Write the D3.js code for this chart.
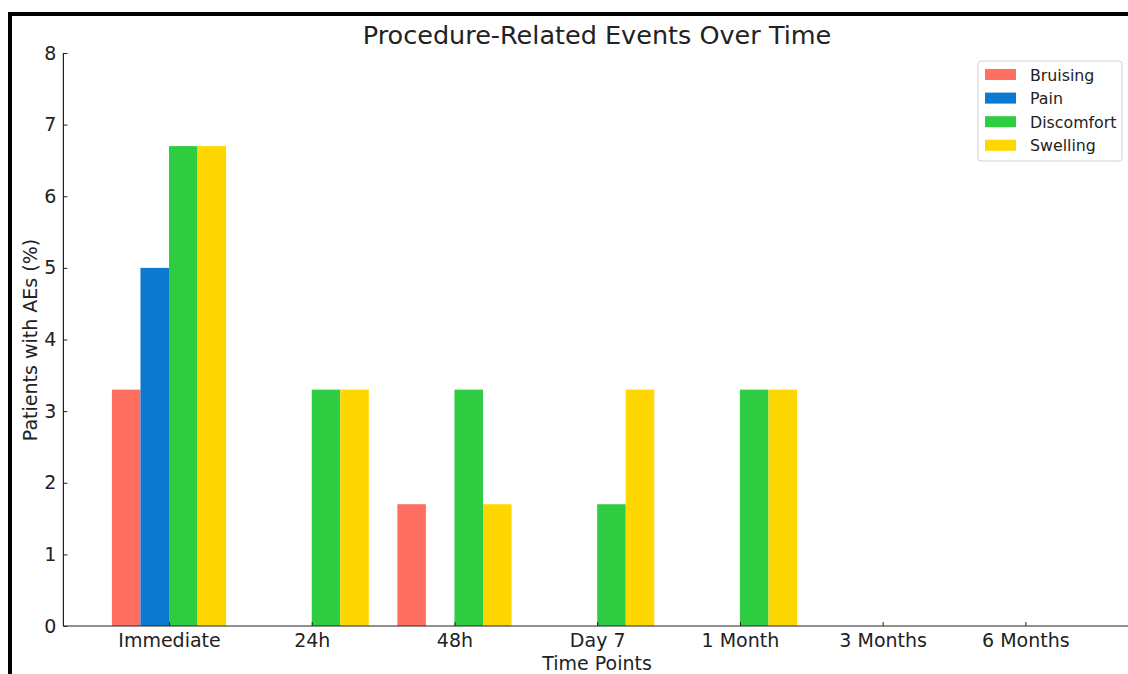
<!DOCTYPE html>
<html>
<head>
<meta charset="utf-8">
<script src="https://cdn.jsdelivr.net/npm/d3@7"></script>
<style>
  html, body { margin: 0; padding: 0; background: #fff; }
  svg { display: block; font-family: "DejaVu Sans", sans-serif; }
</style>
</head>
<body>
<svg id="chart" width="1128" height="674"></svg>
<script>
// chart data
const timePoints = ['Immediate', '24h', '48h', 'Day 7', '1 Month', '3 Months', '6 Months'];
const seriesNames = ['Bruising', 'Pain', 'Discomfort', 'Swelling'];
const bruising = [3.3, 0, 1.7, 0, 0, 0, 0];
const pain = [5.0, 0, 0, 0, 0, 0, 0];
const discomfort = [6.7, 3.3, 3.3, 1.7, 3.3, 0, 0];
const swelling = [6.7, 3.3, 1.7, 3.3, 3.3, 0, 0];
const yTicks = [0, 1, 2, 3, 4, 5, 6, 7, 8];
const colors = ['#FF6F61', '#0A79CF', '#2ECC40', '#FFD700'];

const seriesValues = [bruising, pain, discomfort, swelling];

const svg = d3.select('#chart');
const margin = { top: 53, bottom: 626 };
const barW = 0.2;
const tickFont = 19;

// index scale with matplotlib-like padding
const x = d3.scaleLinear().domain([-0.74, 6.74]).range([63.4, 1131]);
const y = d3.scaleLinear().domain([0, 8]).range([margin.bottom, margin.top]);

// outer frame
svg.append('rect')
  .attr('x', 10).attr('y', 14)
  .attr('width', 1140).attr('height', 700)
  .attr('fill', 'none').attr('stroke', '#000').attr('stroke-width', 4);

// bars
const g = svg.append('g');
seriesValues.forEach((vals, si) => {
  g.selectAll(null)
    .data(vals.map((v, i) => ({ v, i })))
    .join('rect')
    .attr('x', d => x(d.i + (si - 2) * barW))
    .attr('width', d => x(d.i + (si - 1) * barW) - x(d.i + (si - 2) * barW))
    .attr('y', d => y(d.v))
    .attr('height', d => y(0) - y(d.v))
    .attr('fill', colors[si]);
});

// y axis
const yAxis = d3.axisLeft(y).tickValues(yTicks).tickSize(-4).tickPadding(7).tickFormat(d3.format('d'));
svg.append('g')
  .attr('transform', `translate(${x(-0.74)},0)`)
  .call(yAxis)
  .call(a => a.select('.domain').attr('d', `M0,${margin.top}V${margin.bottom}`).attr('stroke', '#222').attr('stroke-width', 1.2))
  .call(a => a.selectAll('.tick line').attr('stroke', '#222'))
  .call(a => a.selectAll('.tick text').attr('font-size', tickFont).attr('fill', '#222').attr('font-family', '"DejaVu Sans", sans-serif'));

// x axis
const xAxis = d3.axisBottom(x).tickValues(d3.range(timePoints.length)).tickSize(-4).tickPadding(8)
  .tickFormat(i => timePoints[i]);
svg.append('g')
  .attr('transform', `translate(0,${margin.bottom})`)
  .call(xAxis)
  .call(a => a.select('.domain').attr('d', `M${x(-0.74)},0H${x(6.74)}`).attr('stroke', '#222').attr('stroke-width', 1.2))
  .call(a => a.selectAll('.tick line').attr('stroke', '#222'))
  .call(a => a.selectAll('.tick text').attr('font-size', tickFont).attr('fill', '#222').attr('font-family', '"DejaVu Sans", sans-serif'));

// titles
svg.append('text')
  .attr('x', 597).attr('y', 44)
  .attr('text-anchor', 'middle')
  .attr('font-size', 25.5).attr('fill', '#222')
  .text('Procedure-Related Events Over Time');

svg.append('text')
  .attr('x', 597).attr('y', 670)
  .attr('text-anchor', 'middle')
  .attr('font-size', tickFont).attr('fill', '#222')
  .text('Time Points');

svg.append('text')
  .attr('transform', `translate(37,340) rotate(-90)`)
  .attr('text-anchor', 'middle')
  .attr('font-size', tickFont).attr('fill', '#222')
  .text('Patients with AEs (%)');

// legend
const legend = svg.append('g').attr('transform', 'translate(978,61)');
legend.append('rect')
  .attr('width', 144).attr('height', 100).attr('rx', 3)
  .attr('fill', '#fff').attr('stroke', '#d0d0d0');
seriesNames.forEach((name, i) => {
  const row = legend.append('g').attr('transform', `translate(7,${14 + i * 23.6})`);
  row.append('rect').attr('x', 0).attr('y', -6).attr('width', 31).attr('height', 11).attr('fill', colors[i]);
  row.append('text').attr('x', 45).attr('y', 5.5)
    .attr('font-size', 15.8).attr('fill', '#222').text(name);
});
</script>
</body>
</html>
